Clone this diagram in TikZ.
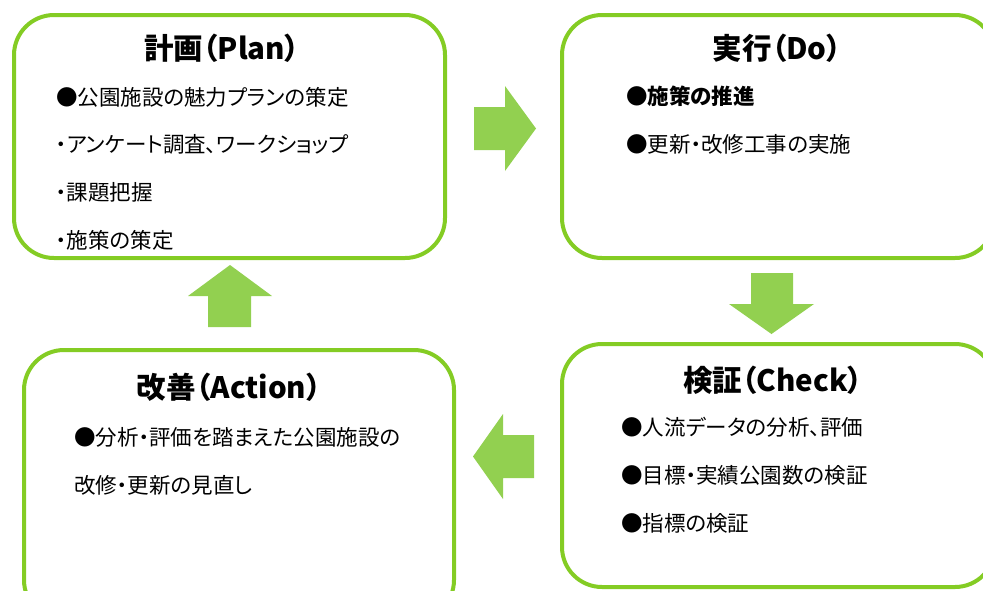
\documentclass[tikz,border=0pt]{standalone}
\usepackage{fontspec}
\newfontfamily\jp[RawFeature=+palt]{Noto Sans CJK JP}
\definecolor{boxgreen}{HTML}{84CC24}
\definecolor{arrowgreen}{HTML}{92D050}
\begin{document}
\begin{tikzpicture}[x=1pt,y=-1pt,
  phase/.style={draw=boxgreen, line width=4pt, rounded corners=40pt, fill=white, rectangle, inner sep=0pt},
  blockarrow/.style={fill=arrowgreen, draw=none},
  title/.style={font=\jp\bfseries\fontsize{29.5}{32}\selectfont, anchor=base, inner sep=0pt},
  item/.style={font=\jp\fontsize{21.5}{25}\selectfont, anchor=base west, inner sep=0pt},
  bolditem/.style={item, font=\jp\bfseries\fontsize{21.5}{25}\selectfont}]
\useasboundingbox (0,0) rectangle (983,590);
\clip (0,0) rectangle (983,590);
% boxes
\node[phase, minimum width=431pt, minimum height=243pt] (plan) at (229.5,136.5) {};
\node[phase, minimum width=433pt, minimum height=243pt] (do) at (778.5,136.5) {};
\node[phase, minimum width=433pt, minimum height=243pt] (check) at (778.5,465.5) {};
\node[phase, minimum width=430pt, minimum height=270pt] (act) at (239,485) {};
% arrows
\fill[blockarrow] (474,107) -- (505,107) -- (505,86) -- (536,128.5) -- (505,171) -- (505,150) -- (474,150) -- cycle;
\fill[blockarrow] (751,273) -- (793,273) -- (793,304) -- (814,304) -- (771.5,334) -- (729,304) -- (751,304) -- cycle;
\fill[blockarrow] (534,435) -- (503,435) -- (503,414) -- (473,456.5) -- (503,499) -- (503,478) -- (534,478) -- cycle;
\fill[blockarrow] (208,327) -- (251,327) -- (251,296) -- (272,296) -- (230,265) -- (188,296) -- (208,296) -- cycle;
% Plan
\node[title] (tplan) at (222,59) {計画（Plan）};
\node[item] (p1) at (56,105) {●公園施設の魅力プランの策定};
\node[item] (p2) at (56,152) {・アンケート調査、ワークショップ};
\node[item] (p3) at (56,200) {・課題把握};
\node[item] (p4) at (56,248) {・施策の策定};
% Do
\node[title] (tdo) at (777,59) {実行（Do）};
\node[bolditem] (d1) at (626,104) {●施策の推進};
\node[item] (d2) at (626,152) {●更新・改修工事の実施};
% Check
\node[title] (tcheck) at (773,391) {検証（Check）};
\node[item] (c1) at (621,435) {●人流データの分析、評価};
\node[item] (c2) at (621,483) {●目標・実績公園数の検証};
\node[item] (c3) at (621,531) {●指標の検証};
% Action
\node[title] (tact) at (229,398) {改善（Action）};
\node[item] (a1) at (74,445) {●分析・評価を踏まえた公園施設の};
\node[item] (a2) at (74,493) {改修・更新の見直し};
\end{tikzpicture}
\end{document}
